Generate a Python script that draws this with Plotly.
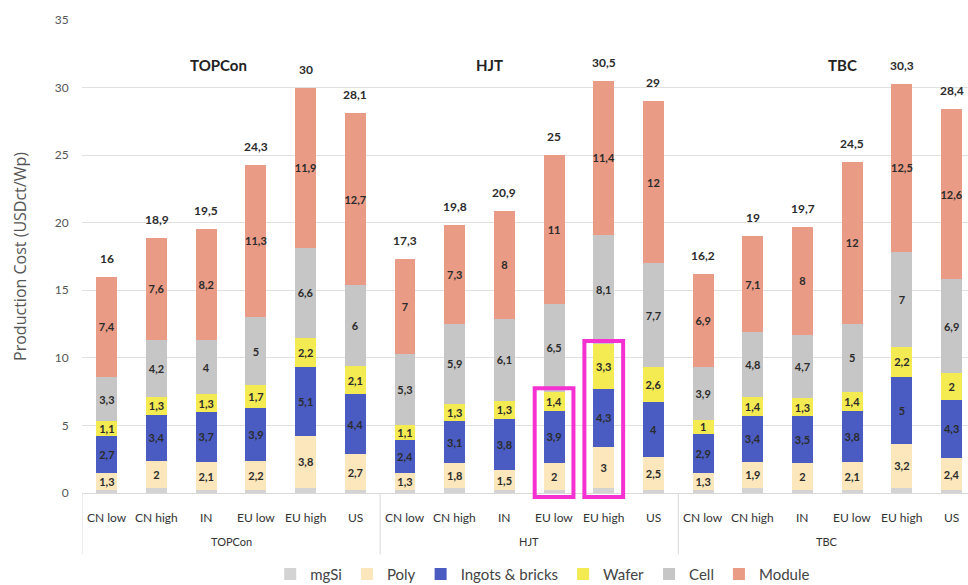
import plotly.graph_objects as go

# Cell technologies and production sites
technologies = ["TOPCon", "HJT", "TBC"]
sites = ["CN low", "CN high", "IN", "EU low", "EU high", "US"]

# Cost components in USDct/Wp, one value per (technology, site), in the order above
mgsi = [0.2, 0.4, 0.2, 0.2, 0.4, 0.2,
        0.2, 0.4, 0.2, 0.2, 0.4, 0.2,
        0.2, 0.4, 0.2, 0.2, 0.4, 0.2]
poly = [1.3, 2, 2.1, 2.2, 3.8, 2.7,
        1.3, 1.8, 1.5, 2, 3, 2.5,
        1.3, 1.9, 2, 2.1, 3.2, 2.4]
ingots = [2.7, 3.4, 3.7, 3.9, 5.1, 4.4,
          2.4, 3.1, 3.8, 3.9, 4.3, 4,
          2.9, 3.4, 3.5, 3.8, 5, 4.3]
wafer = [1.1, 1.3, 1.3, 1.7, 2.2, 2.1,
         1.1, 1.3, 1.3, 1.4, 3.3, 2.6,
         1, 1.4, 1.3, 1.4, 2.2, 2]
cell = [3.3, 4.2, 4, 5, 6.6, 6,
        5.3, 5.9, 6.1, 6.5, 8.1, 7.7,
        3.9, 4.8, 4.7, 5, 7, 6.9]
module = [7.4, 7.6, 8.2, 11.3, 11.9, 12.7,
          7, 7.3, 8, 11, 11.4, 12,
          6.9, 7.1, 8, 12, 12.5, 12.6]

# Highlighted HJT bars (upstream part: mgSi to wafer)
highlighted = [("HJT", "EU low"), ("HJT", "EU high")]

components = [
    ("mgSi", mgsi, "#d3d3d3", False),
    ("Poly", poly, "#fbe7bb", True),
    ("Ingots & bricks", ingots, "#4a5cc2", True),
    ("Wafer", wafer, "#f4ea52", True),
    ("Cell", cell, "#c6c6c6", True),
    ("Module", module, "#e99b86", True),
]

groups = [t for t in technologies for _ in sites]
cats = [s for _ in technologies for s in sites]
x = [groups, cats]
n_sites = len(sites)

Y_MAX = 35
FONT = "Lato"
TEXT = "#2b2b2b"
LINE = "#d9d9d9"


def fmt(v):
    return f"{round(v, 1):g}".replace(".", ",")


fig = go.Figure()
for name, vals, color, labelled in components:
    fig.add_trace(go.Bar(
        name=name, x=x, y=vals,
        marker=dict(color=color, line=dict(width=0)),
        text=[fmt(v) for v in vals] if labelled else None,
        textposition="inside" if labelled else "none",
        insidetextanchor="middle",
        textangle=0,
        constraintext="none",
        textfont=dict(family=FONT, size=11, color=TEXT, weight="bold"),
        hoverinfo="skip",
    ))

# Stack totals above each bar
totals = [round(sum(c[1][i] for c in components), 1) for i in range(len(cats))]
for i, t in enumerate(totals):
    fig.add_annotation(x=i, y=t, xref="x", yref="y", text=f"<b>{fmt(t)}</b>",
                       showarrow=False, yanchor="bottom", yshift=9,
                       font=dict(family=FONT, size=12, color=TEXT))

# Boxes around the mgSi..wafer part of the highlighted bars
# (vertical extent in paper units so the frame can reach below the axis line)
for tech, site in highlighted:
    i = technologies.index(tech) * n_sites + sites.index(site)
    top = mgsi[i] + poly[i] + ingots[i] + wafer[i]
    fig.add_shape(type="rect", xref="x", yref="paper",
                  x0=i - 0.39, x1=i + 0.39,
                  y0=-0.3 / Y_MAX, y1=(top + 0.25) / Y_MAX,
                  line=dict(color="#f531d2", width=4))

# Technology titles inside the plot
title_pos = {"TOPCon": 2.25, "HJT": 7.7, "TBC": 14.8}
for tech in technologies:
    fig.add_annotation(x=title_pos[tech], y=31.7, xref="x", yref="y",
                       text=f"<b>{tech}</b>", showarrow=False,
                       font=dict(family=FONT, size=15, color="#222222"))

# Two-level category axis: site labels, technology labels and group dividers
for i, c in enumerate(cats):
    fig.add_annotation(x=i, y=-0.051, xref="x", yref="paper", text=c,
                       showarrow=False, yanchor="middle",
                       font=dict(family=FONT, size=12, color="#333333"))
for g, tech in enumerate(technologies):
    fig.add_annotation(x=g * n_sites + (n_sites - 1) / 2, y=-0.102,
                       xref="x", yref="paper", text=tech, showarrow=False,
                       yanchor="middle",
                       font=dict(family=FONT, size=11, color="#333333"))
for g in range(len(technologies)):
    fig.add_shape(type="line", xref="x", yref="paper",
                  x0=g * n_sites - 0.5, x1=g * n_sites - 0.5, y0=0, y1=-0.13,
                  line=dict(color=LINE, width=1))

fig.update_layout(
    width=968, height=585,
    barmode="stack", bargap=0.58,
    plot_bgcolor="white", paper_bgcolor="white",
    margin=dict(l=82, r=0, t=20, b=92, autoexpand=False),
    font=dict(family=FONT, color=TEXT),
    legend=dict(orientation="h", x=0.52, xanchor="center", y=-0.172,
                yanchor="middle", traceorder="normal",
                font=dict(family=FONT, size=15, color="#444444"),
                itemwidth=30),
)
fig.update_yaxes(
    range=[0, Y_MAX], dtick=5, showgrid=True, gridcolor="#e0e0e0", gridwidth=1,
    zeroline=False, ticks="outside", ticklen=10, tickcolor="rgba(0,0,0,0)",
    tickfont=dict(family=FONT, size=12, color="#555555"),
    title=dict(text="Production Cost (USDct/Wp)",
               font=dict(family="Open Sans", size=16, color="#555555"),
               standoff=24),
    automargin=False,
)
fig.update_xaxes(
    type="multicategory", range=[-0.5, 17.33],
    showline=True, linecolor=LINE, linewidth=1,
    showticklabels=False, showdividers=False, ticks="",
    automargin=False,
)

fig.write_html("out.html")
